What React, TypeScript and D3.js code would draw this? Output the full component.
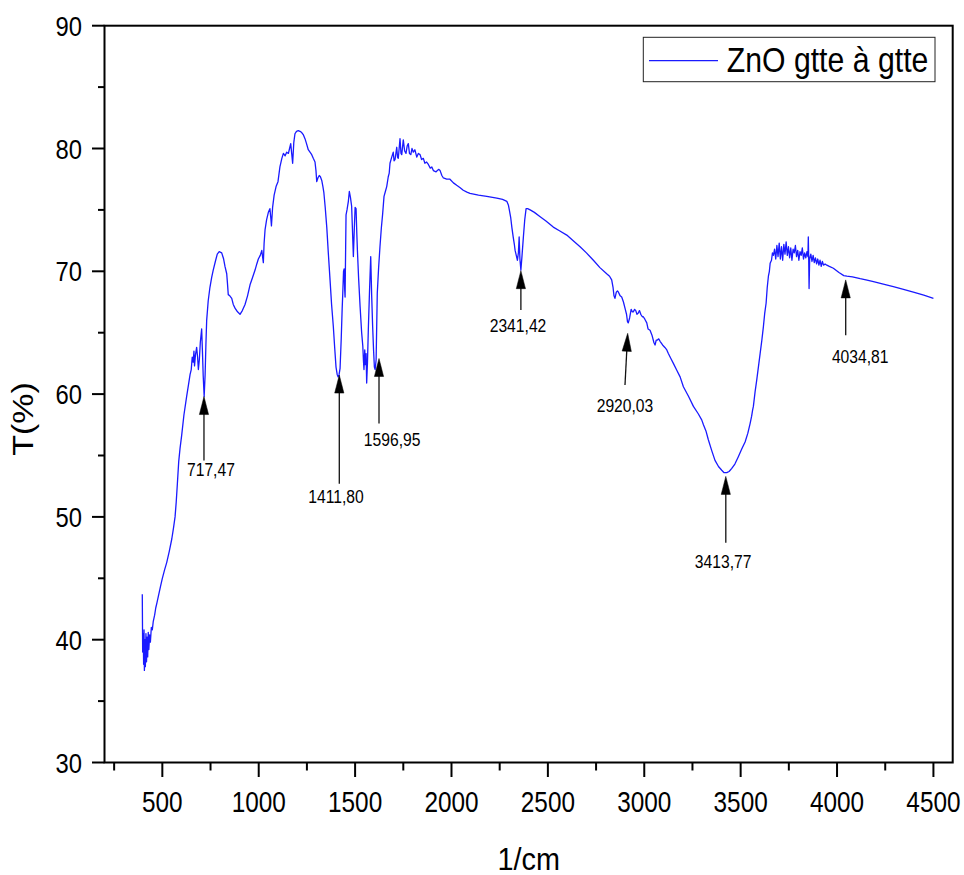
import React from "react";
import * as d3 from "d3";

// Spectrum: wavenumber (1/cm) and transmittance (%)
const wavenumber: number[] = [
  396, 398, 401, 403, 405, 407, 410, 412, 415, 418, 421, 424, 427, 430, 434, 438, 443, 448, 453, 460,
  466, 472, 479, 490, 500, 512, 523, 536, 549, 558, 566, 572, 578, 585, 592, 600, 612, 626, 636, 644,
  650, 655, 660, 664, 667, 672, 678, 683, 687, 692, 697, 704, 708, 712, 717, 722, 726, 730, 738, 747,
  756, 764, 775, 785, 795, 808, 818, 825, 834, 838, 842, 850, 860, 868, 877, 890, 903, 915, 929, 942,
  955, 968, 981, 990, 998, 1008, 1016, 1020, 1024, 1028, 1033, 1041, 1050, 1058, 1063, 1066, 1072, 1080, 1090, 1100,
  1110, 1120, 1128, 1137, 1145, 1154, 1160, 1166, 1171, 1176, 1182, 1188, 1196, 1205, 1214, 1223, 1232, 1240, 1248, 1257,
  1266, 1275, 1283, 1292, 1297, 1301, 1307, 1314, 1320, 1327, 1333, 1338, 1345, 1353, 1361, 1370, 1378, 1387, 1394, 1401,
  1407, 1412, 1417, 1422, 1428, 1433, 1436, 1440, 1443, 1446, 1448, 1451, 1453, 1458, 1465, 1470, 1476, 1482, 1486, 1491,
  1496, 1500, 1505, 1509, 1512, 1518, 1526, 1534, 1540, 1543, 1546, 1550, 1553, 1557, 1560, 1564, 1569, 1575, 1581, 1586,
  1591, 1596, 1600, 1604, 1609, 1612, 1615, 1622, 1629, 1636, 1643, 1650, 1657, 1664, 1672, 1677, 1681, 1690, 1698, 1702,
  1707, 1716, 1720, 1724, 1733, 1738, 1742, 1750, 1757, 1764, 1770, 1776, 1782, 1789, 1795, 1802, 1810, 1820, 1828, 1837,
  1845, 1854, 1862, 1871, 1880, 1890, 1898, 1906, 1920, 1933, 1941, 1950, 1958, 1975, 1992, 2010, 2027, 2045, 2061, 2080,
  2096, 2140, 2183, 2235, 2265, 2287, 2295, 2300, 2307, 2313, 2320, 2326, 2330, 2336, 2342, 2347, 2351, 2355, 2360, 2366,
  2373, 2380, 2387, 2395, 2408, 2430, 2460, 2490, 2528, 2560, 2598, 2630, 2667, 2700, 2736, 2770, 2805, 2820, 2831, 2838,
  2843, 2848, 2855, 2861, 2866, 2875, 2883, 2892, 2900, 2908, 2913, 2917, 2924, 2932, 2938, 2943, 2950, 2956, 2962, 2969,
  2975, 2982, 2990, 2995, 3003, 3013, 3020, 3030, 3040, 3050, 3056, 3062, 3068, 3075, 3082, 3095, 3107, 3117, 3125, 3138,
  3151, 3170, 3186, 3203, 3230, 3255, 3280, 3298, 3307, 3320, 3332, 3350, 3367, 3385, 3402, 3414, 3428, 3440, 3454, 3470,
  3488, 3505, 3523, 3537, 3549, 3557, 3562, 3566, 3575, 3583, 3592, 3601, 3610, 3618, 3625, 3632, 3638, 3644, 3649, 3653,
  3660, 3665, 3670, 3676, 3682, 3688, 3694, 3700, 3706, 3712, 3718, 3724, 3730, 3736, 3742, 3748, 3754, 3760, 3766, 3772,
  3778, 3784, 3790, 3796, 3802, 3808, 3814, 3820, 3826, 3832, 3838, 3844, 3849, 3851, 3853, 3855, 3858, 3864, 3870, 3876,
  3882, 3888, 3894, 3900, 3906, 3912, 3918, 3924, 3930, 3938, 3947, 3960, 3981, 4010, 4035, 4051, 4080, 4120, 4150, 4189,
  4240, 4292, 4340, 4396, 4450, 4500,
];

const transmittance: number[] = [
  43.7, 39.0, 40.5, 38.0, 40.8, 37.5, 40.0, 37.8, 40.5, 38.2, 40.2, 38.6, 40.6, 39.2, 40.4, 39.8, 41.0, 40.8, 41.5, 42.0,
  42.6, 43.0, 43.5, 44.3, 45.0, 45.7, 46.3, 47.2, 48.2, 49.1, 50.0, 51.2, 52.7, 54.5, 55.6, 56.6, 58.3, 59.8, 60.8, 61.6,
  62.0, 63.0, 62.6, 63.5, 62.3, 63.2, 63.8, 63.0, 62.0, 62.8, 64.2, 65.3, 63.5, 61.5, 59.8, 61.6, 64.0, 66.0, 67.6, 68.7,
  69.5, 70.1, 70.8, 71.4, 71.6, 71.5, 71.0, 70.4, 69.8, 69.0, 68.1, 68.0, 67.8, 67.3, 67.0, 66.7, 66.5, 66.8, 67.3, 68.0,
  68.9, 69.5, 70.1, 70.6, 71.0, 71.3, 71.7, 71.2, 70.7, 72.3, 73.4, 74.2, 74.8, 75.1, 74.3, 73.7, 75.2, 76.2, 76.9, 77.3,
  78.5, 79.2, 79.6, 79.4, 79.7, 79.6, 80.0, 80.4, 79.6, 78.8, 80.5, 81.2, 81.4, 81.45, 81.4, 81.3, 81.1, 80.8, 80.4, 79.9,
  79.7, 79.5, 79.2, 78.9, 78.2, 77.3, 77.6, 77.8, 77.7, 77.4, 76.9, 76.4, 75.2, 73.6, 71.5, 69.3, 67.3, 65.5, 63.8, 62.2,
  61.6, 61.4, 61.6, 62.1, 64.5, 67.0, 68.2, 70.0, 70.2, 68.5, 67.9, 72.0, 74.6, 75.0, 75.7, 76.5, 76.0, 75.3, 73.5, 71.2,
  73.5, 75.2, 75.1, 73.0, 71.7, 69.5, 67.1, 65.0, 63.9, 62.8, 62.0, 63.6, 62.4, 63.3, 60.9, 62.5, 65.5, 68.5, 71.2, 68.0,
  65.5, 63.5, 62.2, 62.0, 62.8, 65.5, 68.2, 70.3, 72.0, 73.5, 74.7, 76.1, 76.5, 76.9, 77.7, 78.0, 78.8, 79.3, 79.7, 79.0,
  79.1, 80.1, 79.3, 79.2, 80.8, 79.6, 79.5, 80.7, 79.8, 79.6, 80.2, 80.4, 79.6, 79.5, 80.0, 79.7, 79.9, 79.3, 79.6, 79.5,
  79.1, 79.2, 78.8, 78.9, 78.7, 78.4, 78.5, 78.2, 78.1, 78.3, 78.2, 77.8, 77.6, 77.5, 77.5, 77.2, 77.0, 76.8, 76.6, 76.45,
  76.35, 76.2, 76.1, 75.95, 75.85, 75.7, 75.4, 75.0, 74.4, 73.6, 72.8, 72.2, 71.7, 71.3, 70.9, 71.5, 72.8, 71.0, 70.1, 71.3,
  72.8, 74.2, 75.1, 75.1, 75.0, 74.8, 74.45, 74.1, 73.6, 73.3, 72.95, 72.5, 72.0, 71.5, 70.9, 70.3, 69.8, 69.6, 69.3, 68.7,
  68.0, 67.8, 68.3, 68.4, 68.3, 68.0, 67.9, 67.5, 67.0, 66.5, 65.9, 65.8, 66.2, 66.9, 66.7, 66.7, 66.9, 66.8, 66.5, 66.6,
  66.8, 66.5, 66.3, 66.3, 66.1, 65.8, 65.3, 65.2, 64.8, 64.2, 64.0, 64.4, 64.4, 64.5, 64.3, 64.0, 63.8, 63.6, 63.3, 62.9,
  62.5, 61.9, 61.4, 60.6, 59.8, 59.0, 58.4, 57.9, 57.5, 57.0, 56.3, 55.4, 54.6, 54.1, 53.8, 53.6, 53.6, 53.7, 53.95, 54.3,
  54.9, 55.5, 56.1, 56.8, 57.6, 58.2, 58.7, 59.0, 60.2, 61.1, 62.2, 63.3, 64.4, 65.5, 66.6, 67.4, 68.7, 69.6, 70.0, 70.65,
  70.9, 71.5, 71.3, 71.8, 71.0, 72.1, 71.2, 72.3, 71.0, 72.0, 70.9, 72.2, 71.4, 72.4, 71.3, 72.0, 71.1, 71.9, 70.9, 71.8,
  71.5, 72.1, 71.2, 71.7, 70.9, 71.6, 71.3, 71.9, 71.0, 71.5, 71.1, 71.6, 71.2, 72.8, 71.0, 68.6, 71.0, 71.4, 70.8, 71.3,
  70.7, 71.1, 70.6, 71.0, 70.5, 70.9, 70.4, 70.8, 70.5, 70.6, 70.5, 70.4, 70.25, 69.9, 69.65, 69.6, 69.55, 69.4, 69.3, 69.15,
  68.95, 68.75, 68.55, 68.3, 68.05, 67.8,
];

// Peak annotations (data units)
const peakLabels: string[] = ["717,47", "1411,80", "1596,95", "2341,42", "2920,03", "3413,77", "4034,81"];
const peakTipX: number[] = [716, 1418, 1624, 2360, 2914, 3423, 4045];
const peakTipT: number[] = [59.8, 61.55, 62.9, 70.05, 64.95, 53.3, 69.3];
const peakTailX: number[] = [716, 1418, 1624, 2360, 2900, 3423, 4045];
const peakTailT: number[] = [54.6, 52.7, 57.6, 66.85, 60.74, 47.9, 64.8];
const labelX: number[] = [752, 1401, 1692, 2345, 2900, 3409, 4120];
const labelT: number[] = [53.33, 51.13, 55.78, 65.06, 58.55, 45.84, 62.54];

const yTicks: number[] = [30, 40, 50, 60, 70, 80, 90];
const yMinor: number[] = [35, 45, 55, 65, 75, 85];
const xTicks: number[] = [500, 1000, 1500, 2000, 2500, 3000, 3500, 4000, 4500];
const xMinor: number[] = [250, 750, 1250, 1750, 2250, 2750, 3250, 3750, 4250];

const seriesName = "ZnO gtte à gtte";
const xTitle = "1/cm";
const yTitle = "T(%)";

const FONT = '"Liberation Sans", Arial, Helvetica, sans-serif';

export default function App() {
  const left = 104.5, right = 952.7, top = 25.7, bottom = 762.5;
  const x = d3.scaleLinear().domain([200, 4600]).range([left, right]);
  const y = d3.scaleLinear().domain([30, 90]).range([bottom, top]);

  const pts: [number, number][] = wavenumber.map((w, i) => [w, transmittance[i]]);
  const line = d3
    .line<[number, number]>()
    .x((d) => x(d[0]))
    .y((d) => y(d[1]));

  const blue = "#1a1aff";

  return (
    <svg
      width={964}
      height={875}
      style={{ position: "absolute", left: 0, top: 0, display: "block", background: "#fff" }}
      fontFamily={FONT}
    >
      {/* curve */}
      <path d={line(pts) || ""} fill="none" stroke={blue} strokeWidth={1.3} strokeLinejoin="round" />

      {/* frame */}
      <rect x={left} y={top} width={right - left} height={bottom - top} fill="none" stroke="#000" strokeWidth={2} />

      {/* y ticks */}
      {yTicks.map((t) => (
        <g key={"yt" + t}>
          <line x1={left - 12.5} x2={left} y1={y(t)} y2={y(t)} stroke="#000" strokeWidth={2} />
          <text
            transform={`translate(82,${y(t) + 10}) scale(0.85,1)`}
            textAnchor="end"
            fontSize={28}
            fill="#000"
          >
            {t}
          </text>
        </g>
      ))}
      {yMinor.map((t) => (
        <line key={"ym" + t} x1={left - 6.5} x2={left} y1={y(t)} y2={y(t)} stroke="#000" strokeWidth={2} />
      ))}

      {/* x ticks */}
      {xTicks.map((t) => (
        <g key={"xt" + t}>
          <line x1={x(t)} x2={x(t)} y1={bottom} y2={bottom + 14.5} stroke="#000" strokeWidth={2} />
          <text
            transform={`translate(${x(t)},812) scale(0.84,1)`}
            textAnchor="middle"
            fontSize={29}
            fill="#000"
          >
            {t}
          </text>
        </g>
      ))}
      {xMinor.map((t) => (
        <line key={"xm" + t} x1={x(t)} x2={x(t)} y1={bottom} y2={bottom + 8} stroke="#000" strokeWidth={2} />
      ))}

      {/* axis titles */}
      <text transform="translate(528.7,870) scale(0.9,1)" textAnchor="middle" fontSize={32} fill="#000">
        {xTitle}
      </text>
      <text transform="translate(33.3,419) scale(0.85,1) rotate(-90)" textAnchor="middle" fontSize={34} fill="#000">
        {yTitle}
      </text>

      {/* legend */}
      <rect x={643.3} y={37.3} width={291.7} height={44.4} fill="#fff" stroke="#222" strokeWidth={1} />
      <line x1={649} x2={718} y1={60.7} y2={60.7} stroke={blue} strokeWidth={1.3} />
      <text transform="translate(726.7,71.7) scale(0.84,1)" fontSize={36} fill="#000">
        {seriesName}
      </text>

      {/* peak annotations */}
      {peakLabels.map((lab, i) => {
        const tx = x(peakTipX[i]);
        const ty = y(peakTipT[i]);
        const sx = x(peakTailX[i]);
        const sy = y(peakTailT[i]);
        const ang = (Math.atan2(ty - sy, tx - sx) * 180) / Math.PI;
        const len = Math.hypot(tx - sx, ty - sy);
        const headL = 18;
        const headW = 4.6;
        return (
          <g key={"pk" + i}>
            <g transform={`translate(${sx},${sy}) rotate(${ang})`}>
              <line x1={0} y1={0} x2={len - headL + 1} y2={0} stroke="#111" strokeWidth={1.3} />
              <path
                d={`M${len},0 L${len - headL},${-headW} L${len - headL},${headW} Z`}
                fill="#000"
                stroke="#000"
                strokeWidth={0.5}
              />
            </g>
            <text
              transform={`translate(${x(labelX[i])},${y(labelT[i])}) scale(0.87,1)`}
              textAnchor="middle"
              fontSize={18}
              fill="#000"
            >
              {lab}
            </text>
          </g>
        );
      })}
    </svg>
  );
}
